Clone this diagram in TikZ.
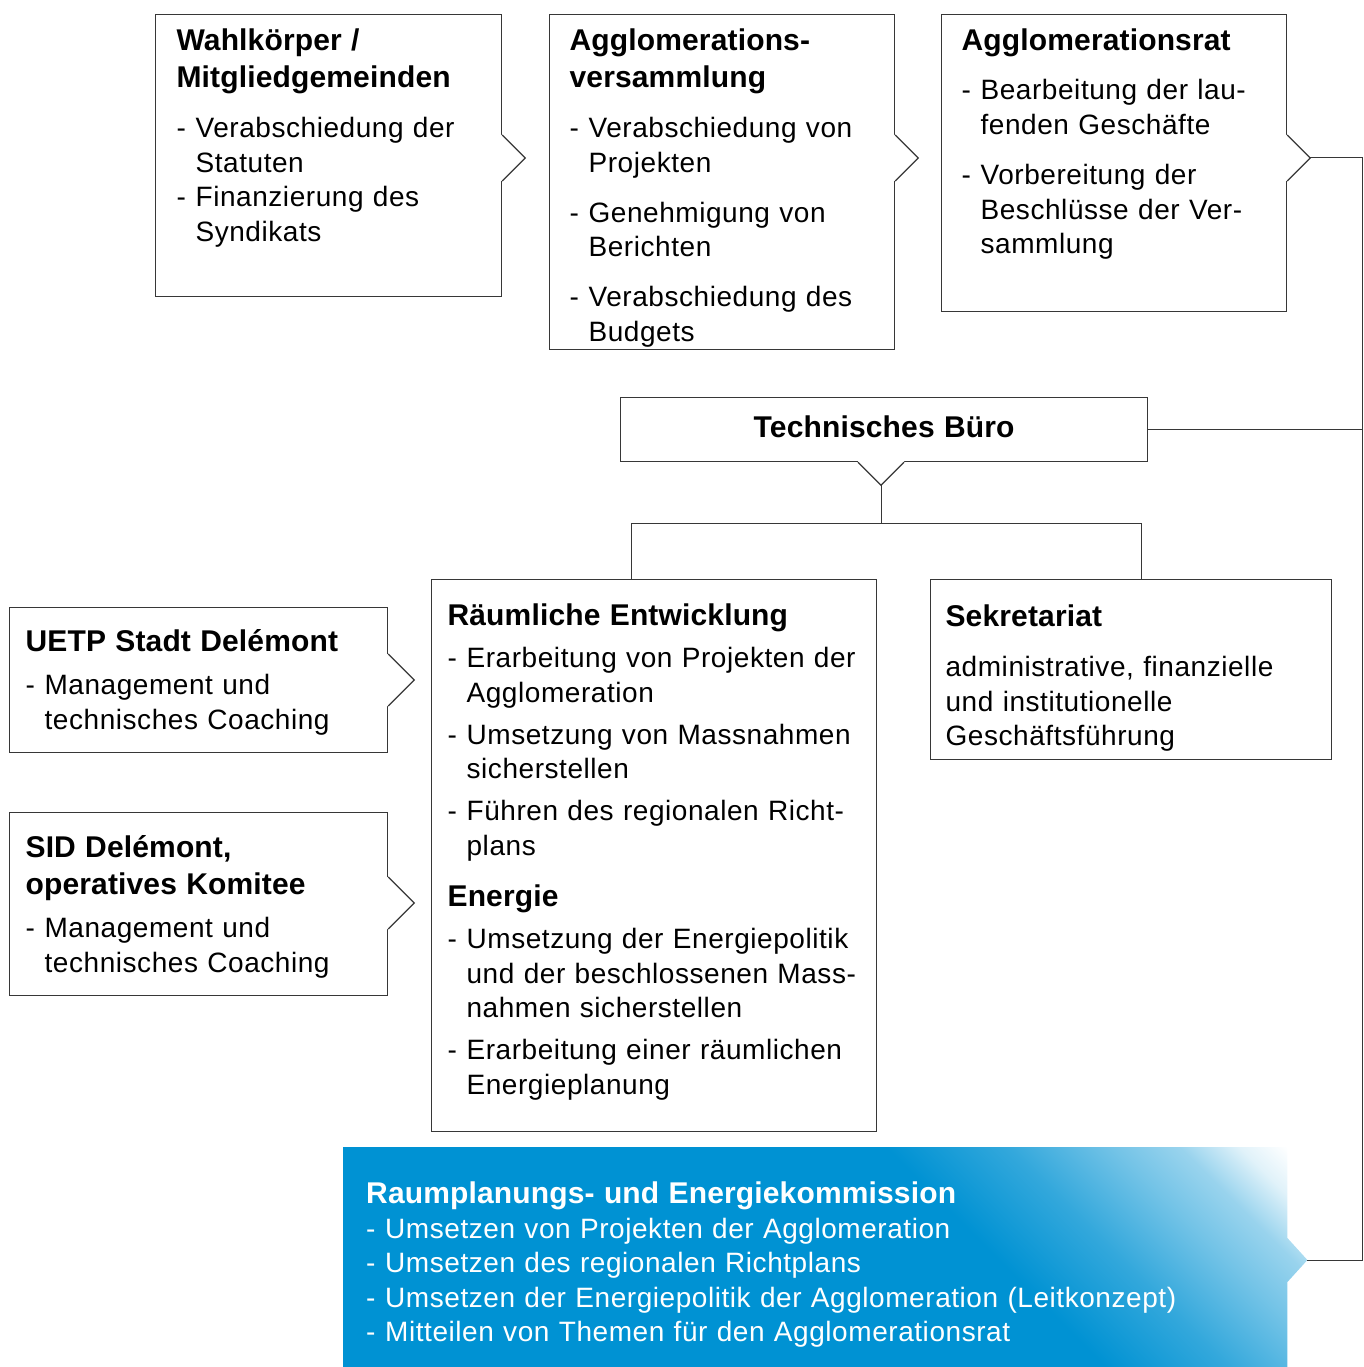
\documentclass[tikz,border=0pt]{standalone}
\usepackage{fontspec}
\setmainfont{Liberation Sans}[LetterSpace=2,BoldFeatures={LetterSpace=0.5}]
\usetikzlibrary{calc,backgrounds}

\definecolor{blau}{RGB}{0,146,211}
\definecolor{rahmenfarbe}{RGB}{55,55,55}
\pgfdeclarehorizontalshading{eckverlauf}{100bp}{color(0bp)=(blau); color(55.8bp)=(blau);
  color(60.1bp)=(blau!80!white); color(63.8bp)=(blau!55!white); color(66.2bp)=(blau!40!white);
  color(68.3bp)=(blau!12!white); color(70bp)=(white); color(100bp)=(white)}

\newcommand{\innen}[1]{\raggedright\leftskip=#1pt\parindent=0pt}
\newcommand{\titel}[1]{{\fontsize{30}{37}\selectfont\bfseries #1\par}}
\newcommand{\stich}[1]{{\hangindent=19pt\hangafter=1\noindent\makebox[19pt][l]{-}#1\par}}
% Spitze am rechten Rand eines Kastens
\newcommand{\spitzerechts}[3]{%
  \coordinate (#1-kante) at ($(#1.north east)+(0,#2)$);
  \fill[white] ($(#1-kante)+(-2,-#3)$) -- ($(#1-kante)+(0,-#3)$) -- ($(#1-kante)+(#3,0)$)
    -- ($(#1-kante)+(0,#3)$) -- ($(#1-kante)+(-2,#3)$) -- cycle;
  \draw[rahmen] ($(#1-kante)+(0,-#3)$) -- ($(#1-kante)+(#3,0)$) coordinate (#1-spitze)
    -- ($(#1-kante)+(0,#3)$);
}

\tikzset{
  rahmen/.style={draw=rahmenfarbe, line width=1.2pt},
  linie/.style={draw=rahmenfarbe, line width=1pt},
  kasten/.style={rahmen, anchor=north west, inner sep=0pt, font=\fontsize{28}{34.5}\selectfont},
}

\begin{document}
\begin{tikzpicture}[x=1pt, y=-1pt]
\useasboundingbox (0,0) rectangle (1364,1367);

% obere Reihe
\node[kasten, text width=346pt, text height=36pt, text depth=246pt] (wahl) at (155,14) {\innen{21}
  \titel{Wahlkörper /\newline Mitgliedgemeinden}\vspace{15.5pt}
  \stich{Verabschiedung der\newline Statuten}
  \stich{Finanzierung des\newline Syndikats}};
\node[kasten, text width=345pt, text height=36pt, text depth=299pt] (versammlung) at (549,14) {\innen{20}
  \titel{Agglomerations-\newline versammlung}\vspace{15.5pt}
  \stich{Verabschiedung von\newline Projekten}\vspace{15.5pt}
  \stich{Genehmigung von\newline Berichten}\vspace{15.5pt}
  \stich{Verabschiedung des\newline Budgets}};
\node[kasten, text width=345pt, text height=36pt, text depth=261pt] (rat) at (941,14) {\innen{20}
  \titel{Agglomerationsrat}\vspace{14.5pt}
  \stich{Bearbeitung der lau-\newline fenden Geschäfte}\vspace{16pt}
  \stich{Vorbereitung der\newline Beschlüsse der Ver-\newline sammlung}};

\node[kasten, text width=527pt, text height=40pt, text depth=24pt, align=center] (buero) at (620,397)
  {\titel{Technisches Büro}};

% mittlere Reihe
\node[kasten, text width=445pt, text height=46pt, text depth=506pt] (raum) at (431,579) {\innen{16}
  \titel{Räumliche Entwicklung}\vspace{7.5pt}
  \stich{Erarbeitung von Projekten der\newline Agglomeration}\vspace{7.5pt}
  \stich{Umsetzung von Massnahmen\newline sicherstellen}\vspace{7.5pt}
  \stich{Führen des regionalen Richt-\newline plans}\vspace{14.5pt}
  \titel{Energie}\vspace{7.5pt}
  \stich{Umsetzung der Energiepolitik\newline und der beschlossenen Mass-\newline nahmen sicherstellen}\vspace{7.5pt}
  \stich{Erarbeitung einer räumlichen\newline Energieplanung}};
\node[kasten, text width=401pt, text height=47pt, text depth=133pt] (sekretariat) at (930,579) {\innen{15}
  \titel{Sekretariat}\vspace{15.5pt}
  administrative, finanzielle\newline und institutionelle\newline Geschäftsführung\par};

\node[kasten, text width=378pt, text height=44pt, text depth=101pt] (uetp) at (9,607) {\innen{16}
  \titel{UETP Stadt Delémont}\vspace{8.5pt}
  \stich{Management und\newline technisches Coaching}};
\node[kasten, text width=378pt, text height=45pt, text depth=138pt] (sid) at (9,812) {\innen{16}
  \titel{SID Delémont,\newline operatives Komitee}\vspace{8.5pt}
  \stich{Management und\newline technisches Coaching}};

% Kommission
\node[anchor=north west, inner sep=0pt, text width=944pt, text height=56pt, text depth=164pt,
  text=white, font=\fontsize{28}{34.5}\selectfont] (kommission) at (343,1147) {\innen{23}
  \titel{Raumplanungs- und Energiekommission}\vspace{0.5pt}
  \stich{Umsetzen von Projekten der Agglomeration}
  \stich{Umsetzen des regionalen Richtplans}
  \stich{Umsetzen der Energiepolitik der Agglomeration (Leitkonzept)}
  \stich{Mitteilen von Themen für den Agglomerationsrat}};
\coordinate (kommission-spitze) at ($(kommission.north east)+(20,113)$);
\begin{scope}[on background layer]
  \clip (kommission.north west) -- (kommission.north east) -- ($(kommission.north east)+(0,91)$)
    -- (kommission-spitze) -- ($(kommission.north east)+(0,135)$) -- (kommission.south east)
    -- (kommission.south west) -- cycle;
  \shade[shading=eckverlauf, transform canvas={rotate around={45:(kommission.north east)}}]
    ($(kommission.north east)+(-900,-800)$) rectangle ($(kommission.north east)+(100,300)$);
\end{scope}

% Spitzen
\spitzerechts{wahl}{144}{23}
\spitzerechts{versammlung}{144}{23}
\spitzerechts{rat}{144}{23}
\spitzerechts{uetp}{73}{26}
\spitzerechts{sid}{91}{26}

\coordinate (buero-kante) at ($(buero.south west)+(261,0)$);
\fill[white] ($(buero-kante)+(-23,-2)$) -- ($(buero-kante)+(-23,0)$) -- ($(buero-kante)+(0,23)$)
  -- ($(buero-kante)+(23,0)$) -- ($(buero-kante)+(23,-2)$) -- cycle;
\draw[rahmen] ($(buero-kante)+(-23,0)$) -- ($(buero-kante)+(0,23)$) coordinate (buero-spitze)
  -- ($(buero-kante)+(23,0)$);

% Verbindungen
\draw[linie] (buero-spitze) -- ++(0,38) coordinate (verteiler);
\draw[linie] ($(raum.north west)+(200,0)$) |- (verteiler) -| ($(sekretariat.north west)+(211,0)$);
\coordinate (ecke) at ($(rat-spitze)+(52,0)$);
\draw[linie] (rat-spitze) -- (ecke) |- (kommission-spitze);
\draw[linie] (buero.east) -- (buero.east -| ecke);
\end{tikzpicture}
\end{document}
